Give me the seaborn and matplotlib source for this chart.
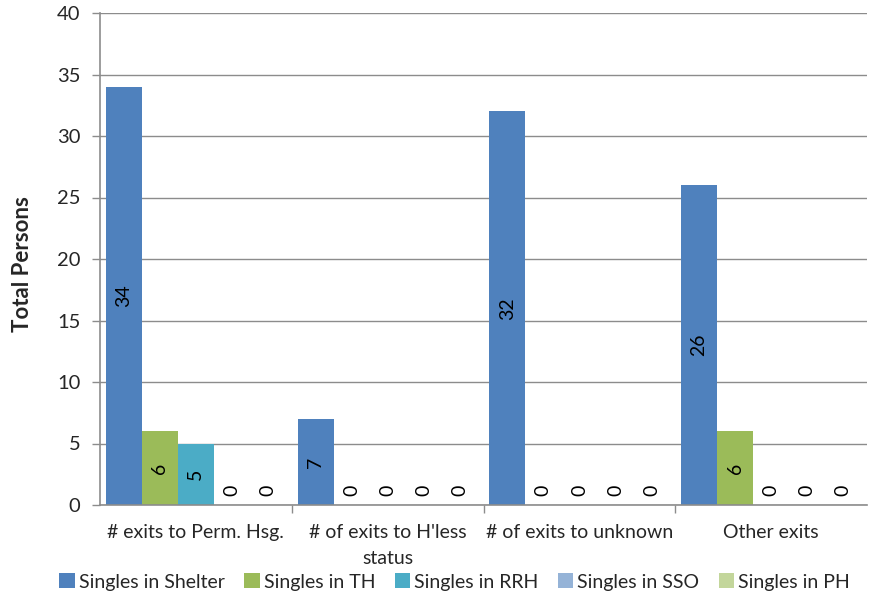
import matplotlib
matplotlib.use("Agg")
import matplotlib.pyplot as plt
import seaborn as sns
import pandas as pd
import numpy as np

categories = ["# exits to Perm. Hsg.", "# of exits to H'less\nstatus",
              "# of exits to unknown", "Other exits"]
series = ["Singles in Shelter", "Singles in TH", "Singles in RRH",
          "Singles in SSO", "Singles in PH"]
shelter = [34, 7, 32, 26]
th = [6, 0, 0, 6]
rrh = [5, 0, 0, 0]
sso = [0, 0, 0, 0]
ph = [0, 0, 0, 0]
colors = ["#4F81BD", "#9BBB59", "#4BACC6", "#95B3D7", "#C3D69B"]
yticks = [0, 5, 10, 15, 20, 25, 30, 35, 40]

values = [shelter, th, rrh, sso, ph]
rows = []
for s, vals in zip(series, values):
    for c, v in zip(categories, vals):
        rows.append({"cat": c, "series": s, "value": v})
df = pd.DataFrame(rows)

sns.set_theme(style="white")
plt.rcParams["font.family"] = ["Lato", "DejaVu Sans"]

fig = plt.figure(figsize=(8.71, 5.97), dpi=100)
ax = fig.add_axes([100 / 871, 1 - 505 / 597, 767 / 871, 492 / 597])

sns.barplot(data=df, x="cat", y="value", hue="series", order=categories,
            hue_order=series, palette=colors, width=0.94, saturation=1,
            errorbar=None, ax=ax, legend=True, linewidth=0)

ax.set_ylim(0, 40)
ax.set_xlim(-0.5, len(categories) - 0.5)
ax.set_yticks(yticks)
ax.set_yticklabels([str(t) for t in yticks], fontsize=14.5)
ax.yaxis.grid(True, color="#8c8c8c", linewidth=1)
ax.set_axisbelow(True)

ax.set_xticks(range(len(categories)))
ax.set_xticklabels(categories, fontsize=14, linespacing=1.6, va="top")
ax.tick_params(axis="x", length=0, pad=14)
ax.set_xticks(np.arange(0.5, len(categories) - 0.5, 1), minor=True)
ax.tick_params(axis="x", which="minor", length=6, color="#8c8c8c", width=1,
               direction="out", bottom=True)
ax.tick_params(axis="y", length=6, color="#8c8c8c", width=1, direction="out",
               left=True, pad=8)
ax.set_xlabel("")
ax.set_ylabel("Total Persons", fontsize=16, fontweight="bold")
ax.yaxis.set_label_coords(-67 / 767, 0.49)

for side in ["top", "right"]:
    ax.spines[side].set_visible(False)
for side in ["left", "bottom"]:
    ax.spines[side].set_color("#8c8c8c")
    ax.spines[side].set_linewidth(1.2)

# value labels
for container in ax.containers:
    for bar in container:
        h = bar.get_height()
        xc = bar.get_x() + bar.get_width() / 2
        yc = h / 2 if h > 0 else 1.2
        ax.text(xc, yc, f"{int(round(h))}", rotation=90, ha="center",
                va="center", fontsize=14, color="black")

leg = ax.get_legend()
handles = leg.legend_handles
leg.remove()
fig.legend(handles, series, loc="center", bbox_to_anchor=(0.522, 1 - 582 / 597),
           ncol=5, frameon=False, fontsize=14, handlelength=0.8,
           handleheight=0.8, handletextpad=0.2, columnspacing=1.0)

fig.savefig("out.png", dpi=100)
